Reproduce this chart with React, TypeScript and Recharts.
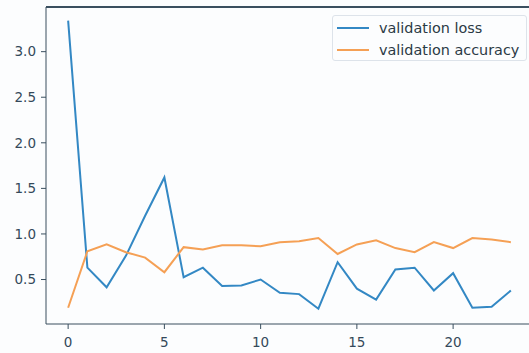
import { Line, LineChart, XAxis, YAxis } from 'recharts'

const epochs = [0, 1, 2, 3, 4, 5, 6, 7, 8, 9, 10, 11, 12, 13, 14, 15, 16, 17, 18, 19, 20, 21, 22, 23]
const validationLoss = [
  3.34, 0.63, 0.415, 0.76, 1.2, 1.62, 0.525, 0.63, 0.43, 0.435, 0.5, 0.354,
  0.34, 0.18, 0.69, 0.4, 0.28, 0.61, 0.63, 0.38, 0.57, 0.19, 0.2, 0.38,
]
const validationAccuracy = [
  0.19, 0.81, 0.885, 0.8, 0.74, 0.58, 0.855, 0.83, 0.875, 0.875, 0.865, 0.91,
  0.92, 0.955, 0.78, 0.885, 0.93, 0.845, 0.8, 0.91, 0.845, 0.955, 0.94, 0.91,
]
const xTicks = [0, 5, 10, 15, 20]
const yTicks = [0.5, 1.0, 1.5, 2.0, 2.5, 3.0]

const data = epochs.map((epoch, i) => ({
  epoch,
  loss: validationLoss[i],
  accuracy: validationAccuracy[i],
}))

const spine = '#3a4f5f'
const blue = '#3388c4'
const orange = '#f5a055'

const legendItems = [
  { label: 'validation loss', color: blue },
  { label: 'validation accuracy', color: orange },
]

// matplotlib-style legend box, laid over the top right of the plot
function LegendBox() {
  return (
    <div
      style={{
        position: 'absolute',
        top: 15,
        left: 332,
        width: 195,
        height: 46,
        boxSizing: 'border-box',
        border: '1px solid #dde3ea',
        borderRadius: 3,
        background: '#fcfdfe',
        padding: '1px 0 0 4px',
        fontFamily: 'DejaVu Sans',
        fontSize: 14.4,
        color: '#2b3a45',
      }}
    >
      {legendItems.map((item) => (
        <div key={item.label} style={{ display: 'flex', alignItems: 'center', height: 22 }}>
          <span style={{ width: 32, height: 2, background: item.color, marginRight: 10 }} />
          <span style={{ whiteSpace: 'nowrap' }}>{item.label}</span>
        </div>
      ))}
    </div>
  )
}

export default function App() {
  return (
    <div
      style={{
        position: 'absolute',
        left: 0,
        top: 0,
        width: 529,
        height: 353,
        overflow: 'hidden',
        background: '#fcfdfe',
      }}
    >
      <LineChart width={536} height={353} data={data} margin={{ top: 7, right: 3, bottom: 0, left: 0 }}>
        <XAxis
          dataKey="epoch"
          type="number"
          domain={[-1.15, 24.15]}
          ticks={xTicks}
          tickSize={5}
          tickMargin={8}
          height={29}
          stroke={spine}
          tick={{ fill: '#34495a', fontSize: 13.5, fontFamily: 'DejaVu Sans' }}
        />
        <YAxis
          type="number"
          domain={[0.012, 3.49]}
          ticks={yTicks}
          tickFormatter={(v: number) => v.toFixed(1)}
          tickSize={5}
          tickMargin={5}
          width={46}
          stroke={spine}
          tick={{ fill: '#34495a', fontSize: 13.5, fontFamily: 'DejaVu Sans' }}
        />
        <Line
          dataKey="loss"
          name="validation loss"
          stroke={blue}
          strokeWidth={2}
          dot={false}
          isAnimationActive={false}
        />
        <Line
          dataKey="accuracy"
          name="validation accuracy"
          stroke={orange}
          strokeWidth={2}
          dot={false}
          isAnimationActive={false}
        />
      </LineChart>
      {/* top spine of the axes frame */}
      <div style={{ position: 'absolute', top: 6, left: 46, width: 483, height: 2, background: spine }} />
      <LegendBox />
    </div>
  )
}
